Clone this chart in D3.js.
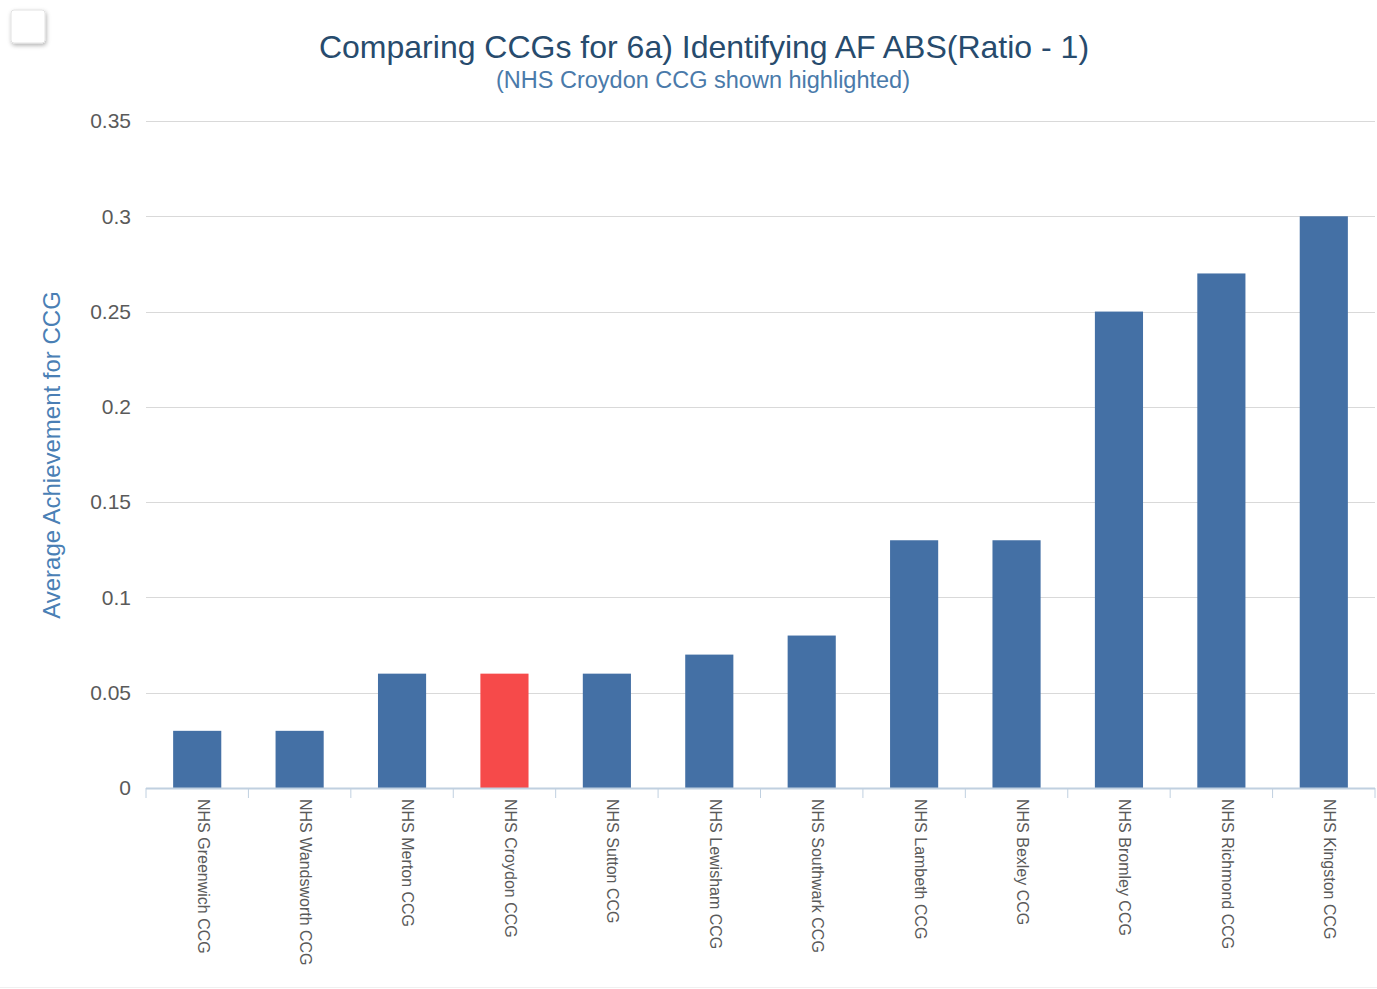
<!DOCTYPE html>
<html><head><meta charset="utf-8">
<script src="https://cdn.jsdelivr.net/npm/d3@7"></script>
<style>
html,body{margin:0;padding:0;background:#fff;}
svg{display:block;font-family:"Liberation Sans",Arial,sans-serif;}
</style></head>
<body>
<svg id="chart" width="1377" height="989"></svg>
<script>
const categories = ["NHS Greenwich CCG","NHS Wandsworth CCG","NHS Merton CCG","NHS Croydon CCG","NHS Sutton CCG","NHS Lewisham CCG","NHS Southwark CCG","NHS Lambeth CCG","NHS Bexley CCG","NHS Bromley CCG","NHS Richmond CCG","NHS Kingston CCG"];
const values = [0.03,0.03,0.06,0.06,0.06,0.07,0.08,0.13,0.13,0.25,0.27,0.30];
const highlighted = "NHS Croydon CCG";
const yTicks = [0,0.05,0.1,0.15,0.2,0.25,0.3,0.35];
const yTickLabels = ["0","0.05","0.1","0.15","0.2","0.25","0.3","0.35"];
const titleText = "Comparing CCGs for 6a) Identifying AF ABS(Ratio - 1)";
const subtitleText = "(NHS Croydon CCG shown highlighted)";
const yTitle = "Average Achievement for CCG";

const svg = d3.select("#chart");
const W = 1377, H = 989;
const m = {left:146, right:1375, top:121, bottom:788};

// checkbox-like button
const defs = svg.append("defs");
const f = defs.append("filter").attr("id","sh").attr("x","-30%").attr("y","-30%").attr("width","160%").attr("height","160%");
f.append("feDropShadow").attr("dx",1).attr("dy",2).attr("stdDeviation",2).attr("flood-color","#000").attr("flood-opacity",0.3);
svg.append("rect").attr("x",11).attr("y",10).attr("width",34).attr("height",33).attr("rx",3)
  .attr("fill","#fff").attr("stroke","#e2e2e2").attr("filter","url(#sh)");

const x = d3.scaleBand().domain(categories).range([m.left,m.right]).paddingInner(0.53).paddingOuter(0.265);
const xTicksScale = d3.scaleBand().domain(categories).range([m.left,m.right]);
const y = d3.scaleLinear().domain([0,0.35]).range([m.bottom,m.top]);

// grid
svg.append("g").selectAll("line").data(yTicks.filter(d=>d>0)).join("line")
  .attr("x1",m.left).attr("x2",m.right).attr("y1",d=>Math.round(y(d))+0.5).attr("y2",d=>Math.round(y(d))+0.5)
  .attr("stroke","#d9d9d9").attr("stroke-width",1);

// y axis labels
const yAxis = d3.axisLeft(y).tickValues(yTicks).tickFormat((d,i)=>yTickLabels[i]).tickSize(0).tickPadding(15);
const gy = svg.append("g").attr("transform",`translate(${m.left},0)`).call(yAxis);
gy.select(".domain").remove();
gy.selectAll("text").attr("font-size",21).attr("fill","#5a5a5a").attr("font-family","Liberation Sans, Arial, sans-serif");

// bars
svg.append("g").selectAll("rect").data(categories).join("rect")
  .attr("x",d=>x(d)).attr("width",x.bandwidth())
  .attr("y",(d,i)=>y(values[i])).attr("height",(d,i)=>y(0)-y(values[i]))
  .attr("fill",d=>d===highlighted?"#f64a4a":"#4470a5");

// x axis
const gx = svg.append("g").attr("transform",`translate(0,${m.bottom})`);
gx.append("line").attr("x1",m.left).attr("x2",m.right).attr("y1",0.5).attr("y2",0.5).attr("stroke","#c0d0e0").attr("stroke-width",2);
const tickPos = categories.map(c=>xTicksScale(c)).concat([m.right]);
gx.selectAll("line.t").data(tickPos).join("line").attr("class","t")
  .attr("x1",d=>d).attr("x2",d=>d).attr("y1",0).attr("y2",10).attr("stroke","#c0d0e0").attr("stroke-width",1);
gx.selectAll("text").data(categories).join("text")
  .attr("transform",d=>`translate(${xTicksScale(d)+xTicksScale.bandwidth()/2+6},11) rotate(90)`)
  .attr("dy","0.35em").attr("text-anchor","start")
  .attr("font-size",16).attr("fill","#5a5a5a").text(d=>d);

// y title
svg.append("text").attr("transform",`translate(60,455) rotate(-90)`).attr("text-anchor","middle")
  .attr("font-size",24).attr("fill","#4a7fb5").text(yTitle);

// titles
svg.append("text").attr("x",704).attr("y",58).attr("text-anchor","middle").attr("font-size",32)
  .attr("fill","#274b6d").text(titleText);
svg.append("text").attr("x",703).attr("y",88).attr("text-anchor","middle").attr("font-size",23.5)
  .attr("fill","#4a7aaa").text(subtitleText);

// bottom faint line
svg.append("line").attr("x1",0).attr("x2",W).attr("y1",987.5).attr("y2",987.5).attr("stroke","#f0f0f0");
</script>
</body></html>
